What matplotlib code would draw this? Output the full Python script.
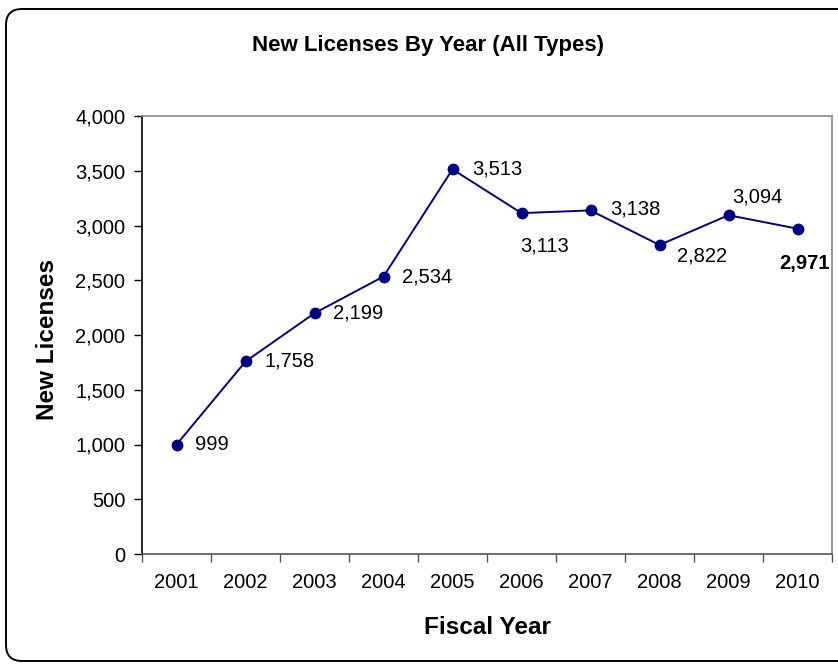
import numpy as np
import matplotlib.pyplot as plt
from matplotlib.patches import FancyBboxPatch
from matplotlib.transforms import IdentityTransform

plt.rcParams['font.family'] = ['Liberation Sans', 'DejaVu Sans']

years = ['2001', '2002', '2003', '2004', '2005', '2006', '2007', '2008', '2009', '2010']
licenses = [999, 1758, 2199, 2534, 3513, 3113, 3138, 2822, 3094, 2971]

# label offsets in pixels (dx, dy) relative to each point, plus alignment
label_offsets = [(19, 0), (19, 0), (19, 0), (18, 0), (20, 0),
                 (-1, -33), (20, 1), (17, -11), (4, 18), (7, -35)]
label_ha = ['left'] * 9 + ['center']

fig = plt.figure(figsize=(8.38, 6.64), dpi=100)
ax = fig.add_axes([142 / 838, 110 / 664, 690 / 838, 438 / 664])

x = np.arange(len(years))
ax.plot(x, licenses, color='#000080', lw=1.4, marker='o', ms=7.5,
        markerfacecolor='#000080', markeredgecolor='#000080', zorder=3)

for i, v in enumerate(licenses):
    dx, dy = label_offsets[i]
    bold = (i == len(licenses) - 1)
    ax.annotate(f'{v:,}', (x[i], v), xytext=(dx, dy), textcoords='offset pixels',
                ha=label_ha[i], va='center', fontsize=14.5,
                fontweight='bold' if bold else 'normal')

ax.set_xlim(-0.5, len(years) - 0.5)
ax.set_ylim(0, 4000)
ax.set_yticks(np.arange(0, 4001, 500))
ax.set_yticklabels([f'{t:,}' for t in range(0, 4001, 500)])
ax.set_xticks(x)
ax.set_xticklabels(years)
ax.set_xticks(np.arange(-0.5, len(years), 1), minor=True)

ax.tick_params(axis='y', which='major', length=6, width=1, color='black',
               direction='out', labelsize=14.5, pad=6)
ax.tick_params(axis='x', which='major', length=0, labelsize=14.5, pad=14)
ax.tick_params(axis='x', which='minor', length=6, width=1, color='#555555',
               direction='out')

ax.spines['left'].set_color('black')
ax.spines['bottom'].set_color('#555555')
ax.spines['top'].set_color('#888888')
ax.spines['right'].set_color('#888888')
for s in ax.spines.values():
    s.set_linewidth(1.2)

fig.text(427.5 / 838, 1 - 45 / 664, 'New Licenses By Year (All Types)',
         ha='center', va='center', fontsize=16, fontweight='bold')
fig.text(47 / 838, 1 - 340 / 664, 'New Licenses', rotation=90,
         ha='center', va='center', fontsize=17.5, fontweight='bold')
fig.text(487 / 838, 1 - 627 / 664, 'Fiscal Year',
         ha='center', va='center', fontsize=17.5, fontweight='bold')

# rounded chart border, in pixel coordinates (right edge runs past the canvas)
border = FancyBboxPatch((6, 3), 900, 652, boxstyle='round,pad=0,rounding_size=16',
                        transform=IdentityTransform(), fill=False,
                        edgecolor='black', lw=1.4, clip_on=False)
fig.patches.append(border)

fig.savefig('out.png', dpi=100)
